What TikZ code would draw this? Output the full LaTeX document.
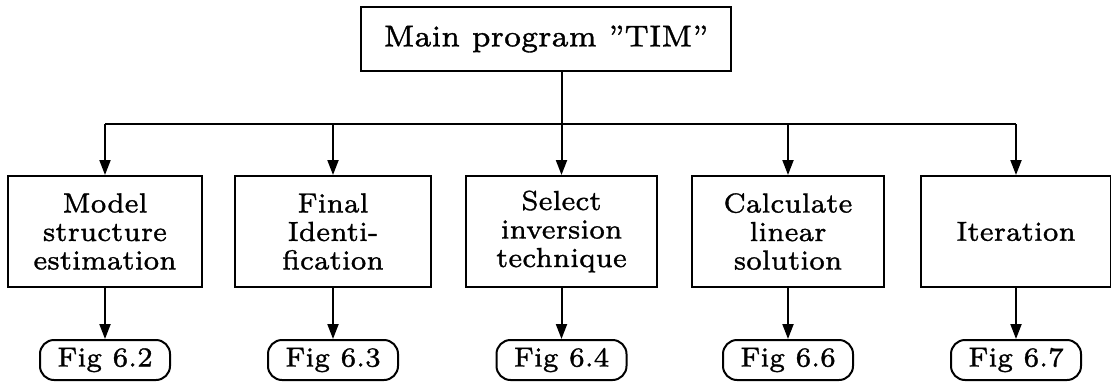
\documentclass[tikz,border=0pt]{standalone}
\usepackage{fontspec}
\setmainfont{lmroman7-regular.otf}[FakeBold=1.2]
\usetikzlibrary{arrows.meta}
\begin{document}
\begin{tikzpicture}[x=1pt,y=-1pt,
  every node/.style={font=\fontsize{27.5}{28.5}\selectfont, align=center, inner sep=0pt},
  wire/.style={line width=2pt},
  feed/.style={wire, -{Triangle[length=15pt,width=11pt]}},
  stagebox/.style={draw, line width=2pt, minimum height=111pt},
  figtag/.style={draw, line width=2pt, rounded corners=14pt, minimum width=130pt, minimum height=40pt}]
\useasboundingbox (0,0) rectangle (1111,383);

% main program
\node[draw, line width=2pt, minimum width=370pt, minimum height=64pt,
      font=\fontsize{30}{32}\selectfont] (top) at (546,39) {Main program ''TIM''};

% stages
\node[stagebox, minimum width=194pt] (box1) at (105,231.5) {Model\\structure\\estimation};
\node[stagebox, minimum width=196pt] (box2) at (333,231.5) {Final\\Identi-\\fication};
\node[stagebox, minimum width=191pt] (box3) at (561.5,231.5) {Select\\inversion\\technique};
\node[stagebox, minimum width=192pt] (box4) at (788,231.5) {Calculate\\linear\\solution};
\node[stagebox, minimum width=190pt] (box5) at (1016,231.5) {Iteration};

% figure references
\node[figtag] (fig1) at (105,360) {Fig 6.2};
\node[figtag] (fig2) at (333,360) {Fig 6.3};
\node[figtag] (fig3) at (561.5,360) {Fig 6.4};
\node[figtag] (fig4) at (788,360) {Fig 6.6};
\node[figtag] (fig5) at (1016,360) {Fig 6.7};

% distribution bus
\coordinate (bus) at (0,124);
\draw[wire] (top.south -| box3) -- (box3 |- bus);
\draw[wire] (box1 |- bus) -- (box5 |- bus);
\foreach \i in {1,...,5}{
  \draw[feed] (box\i |- bus) -- (box\i.north);
  \draw[feed] (box\i.south) -- (fig\i.north);
}
\end{tikzpicture}
\end{document}
